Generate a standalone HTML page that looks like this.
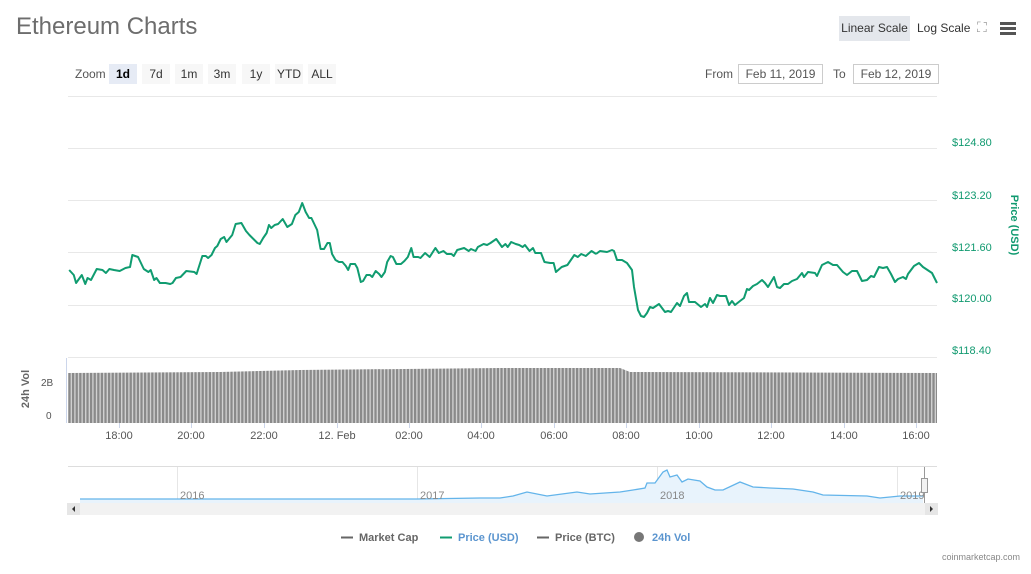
<!DOCTYPE html>
<html><head><meta charset="utf-8"><style>
body{margin:0;width:1031px;height:574px;background:#fff;font-family:"Liberation Sans",sans-serif;overflow:hidden;position:relative}
.a{position:absolute;white-space:nowrap}
.btn{position:absolute;top:64px;height:20px;width:28px;background:#f7f7f7;font-size:12px;color:#333;text-align:center;line-height:20px}
.inp{position:absolute;top:64px;height:18px;border:1px solid #ccc;font-size:12px;color:#555;line-height:18px;text-align:center}
.xl{position:absolute;top:430px;font-size:11px;color:#555;transform:translateX(-50%)}
.pl{position:absolute;left:952px;font-size:11px;color:#119a70}
</style></head><body>
<div class="a" style="left:16px;top:13px;font-size:24px;color:#6d6d6d">Ethereum Charts</div>
<div class="a" style="left:839px;top:16px;width:71px;height:25px;background:#e4e7ec;font-size:12px;color:#333;line-height:25px;text-align:center">Linear Scale</div>
<div class="a" style="left:917px;top:21px;font-size:12px;color:#333">Log Scale</div>
<div class="a" style="left:977px;top:19px;font-size:14px;color:#999">⛶</div>
<div class="a" style="left:1000px;top:22px;width:16px;height:3px;background:#555;box-shadow:0 5px 0 #555,0 10px 0 #555"></div>
<div class="a" style="left:75px;top:67px;font-size:12px;color:#555">Zoom</div>
<div class="btn" style="left:109px;background:#e6ebf5;font-weight:bold;color:#000">1d</div>
<div class="btn" style="left:142px">7d</div>
<div class="btn" style="left:175px">1m</div>
<div class="btn" style="left:208px">3m</div>
<div class="btn" style="left:242px">1y</div>
<div class="btn" style="left:275px">YTD</div>
<div class="btn" style="left:308px">ALL</div>
<div class="a" style="left:705px;top:67px;font-size:12px;color:#555">From</div>
<div class="inp" style="left:738px;width:83px">Feb 11, 2019</div>
<div class="a" style="left:833px;top:67px;font-size:12px;color:#555">To</div>
<div class="inp" style="left:853px;width:84px">Feb 12, 2019</div>
<svg class="a" style="left:0;top:0" width="1031" height="574">
<defs><pattern id="st" width="3.6" height="10" patternUnits="userSpaceOnUse"><rect width="2.4" height="10" fill="#8a8a8a"/><rect x="2.4" width="1.2" height="10" fill="#d0d0d0"/></pattern></defs>
<g stroke="#e8e8e8" stroke-width="1">
<line x1="68" y1="96.5" x2="937" y2="96.5"/><line x1="68" y1="148.5" x2="937" y2="148.5"/><line x1="68" y1="200.5" x2="937" y2="200.5"/><line x1="68" y1="252.5" x2="937" y2="252.5"/><line x1="68" y1="305.5" x2="937" y2="305.5"/><line x1="68" y1="357.5" x2="937" y2="357.5"/>
</g>
<line x1="66.5" y1="358" x2="66.5" y2="423" stroke="#ccd6eb"/>
<polygon points="68,373 220,372 300,370 500,368 620,368 630,372 937,373 937,423 68,423" fill="url(#st)"/>
<g stroke="#ccd6eb"><line x1="119.5" y1="423" x2="119.5" y2="428"/><line x1="191.5" y1="423" x2="191.5" y2="428"/><line x1="264.5" y1="423" x2="264.5" y2="428"/><line x1="337.5" y1="423" x2="337.5" y2="428"/><line x1="409.5" y1="423" x2="409.5" y2="428"/><line x1="481.5" y1="423" x2="481.5" y2="428"/><line x1="554.5" y1="423" x2="554.5" y2="428"/><line x1="626.5" y1="423" x2="626.5" y2="428"/><line x1="699.5" y1="423" x2="699.5" y2="428"/><line x1="771.5" y1="423" x2="771.5" y2="428"/><line x1="844.5" y1="423" x2="844.5" y2="428"/><line x1="916.5" y1="423" x2="916.5" y2="428"/></g>
<g fill="none" stroke="#109c70" stroke-width="2" stroke-linejoin="round">
<g transform="translate(60,0) scale(1.148,1) translate(-60,0)"><polyline vector-effect="non-scaling-stroke" points="68,270 72,275 74,283 79,275 82,284 84,278 87,280 92,269 97,270 100,273 103,269 107,270 112,271 117,268 121,267 123,255 128,257 133,269 137,272 139,270 142,280 144,278 147,283 152,283 156,284 158,283 161,278 165,277 170,271 177,272 179,274 184,256 187,256 189,258 192,255 195,248 197,246 200,239 203,237 205,242 210,235 213,224 218,223 222,231 225,235 232,243 234,244 237,238 240,233 242,225 244,228 247,225 250,224 254,219 258,227 262,224 265,215 268,212 271,203 274,212 277,218 279,218 284,230 287,249 290,249 293,243 295,243 297,254 300,260 303,262 306,262 309,266 311,270 313,264 317,264 319,268 322,282 324,281 327,275 330,275 332,277 335,271 338,274 340,277 343,272 345,262 348,256 350,257 353,264 357,264 360,261 363,257 366,248 368,257 372,257 374,258 378,253 382,257 387,248 390,253 394,251 397,254 401,254 403,256 406,250 409,249 412,248 416,251 418,249 422,251 424,247 429,244 432,245 435,243 440,239 445,247 448,244 450,247 453,242 457,244 460,245 463,247 465,245 469,251 472,248 474,253 479,253 482,262 487,263 490,263 492,272 497,267 502,265 508,255 511,257 514,254 518,256 523,251 527,254"/></g>
<polyline points="596,254 600,251 607,252 612,250 614,251 617,260 622,260 627,263 632,270 634,287 638,310 641,316 644,317 647,313 650,307 653,308 659,304 665,312 668,311 671,312 677,303 680,306 684,296 687,293 689,302 695,302 701,307 705,304 707,307 710,298 713,303 717,295 720,296 726,296 729,305 732,301 735,305 740,301 744,298 747,289 749,290 753,286 757,284 762,280 765,283 768,287 774,277 777,287 780,288 784,284 788,284 792,281 797,279 802,273 804,277 808,272 815,273 817,276 822,265 828,262 833,265 837,265 843,272 847,275 852,271 857,271 862,281 867,280 871,276 874,277 879,267 883,268 887,267 891,274 895,282 898,279 903,277 906,279 908,274 914,266 919,263 923,267 932,273 937,283"/>
</g>
<line x1="68" y1="466.5" x2="937" y2="466.5" stroke="#ddd"/>
<g stroke="#e6e6e6"><line x1="177.5" y1="467" x2="177.5" y2="503"/><line x1="417.5" y1="467" x2="417.5" y2="503"/><line x1="657.5" y1="467" x2="657.5" y2="503"/><line x1="897.5" y1="467" x2="897.5" y2="503"/></g>
<polygon points="80,499 417,499 480,498 500,498 513,496 527,492 547,496 577,492 590,494 620,492 633,490 645,488 647,483 655,483 663,472 667,470 670,477 677,475 682,482 688,479 700,481 707,487 715,490 723,490 740,482 753,487 770,488 793,489 813,492 823,495 867,496 880,498 900,496 923,496 923,503 80,503" fill="#e8f3fc"/>
<polyline fill="none" stroke="#63b4ea" stroke-width="1.3" points="80,499 417,499 480,498 500,498 513,496 527,492 547,496 577,492 590,494 620,492 633,490 645,488 647,483 655,483 663,472 667,470 670,477 677,475 682,482 688,479 700,481 707,487 715,490 723,490 740,482 753,487 770,488 793,489 813,492 823,495 867,496 880,498 900,496 923,496"/>
<g font-size="11" fill="#888" font-family="Liberation Sans"><text x="180" y="499">2016</text><text x="420" y="499">2017</text><text x="660" y="499">2018</text><text x="900" y="499">2019</text></g>
<line x1="924.5" y1="467" x2="924.5" y2="503" stroke="#999"/>
<rect x="921.5" y="478.5" width="6" height="14" fill="#f2f2f2" stroke="#999"/>
<rect x="67" y="503" width="871" height="12" fill="#f2f2f2"/>
<rect x="67" y="503" width="13" height="12" fill="#e6e6e6"/><rect x="925" y="503" width="13" height="12" fill="#e6e6e6"/>
<polygon points="75,506 75,512 72,509" fill="#333"/><polygon points="930,506 930,512 933,509" fill="#333"/>
<line x1="341" y1="537.5" x2="353" y2="537.5" stroke="#666" stroke-width="2"/>
<line x1="440" y1="537.5" x2="452" y2="537.5" stroke="#109c70" stroke-width="2"/>
<line x1="537" y1="537.5" x2="549" y2="537.5" stroke="#666" stroke-width="2"/>
<circle cx="639" cy="537" r="5" fill="#777"/>
<g font-size="11" font-weight="bold" font-family="Liberation Sans"><text x="359" y="541" fill="#666">Market Cap</text><text x="458" y="541" fill="#5b95cf">Price (USD)</text><text x="555" y="541" fill="#666">Price (BTC)</text><text x="652" y="541" fill="#5b95cf">24h Vol</text></g>
<text x="1011" y="225" transform="rotate(90 1011 225)" text-anchor="middle" font-size="11" font-weight="bold" fill="#119a70" font-family="Liberation Sans">Price (USD)</text>
<text x="29" y="389" transform="rotate(-90 29 389)" text-anchor="middle" font-size="11" font-weight="bold" fill="#666" font-family="Liberation Sans">24h Vol</text>
</svg>
<div class="pl" style="top:137px">$124.80</div>
<div class="pl" style="top:190px">$123.20</div>
<div class="pl" style="top:242px">$121.60</div>
<div class="pl" style="top:293px">$120.00</div>
<div class="pl" style="top:345px">$118.40</div>
<div class="a" style="left:41px;top:378px;font-size:10px;color:#555">2B</div>
<div class="a" style="left:46px;top:411px;font-size:10px;color:#555">0</div>
<div class="xl" style="left:119px">18:00</div><div class="xl" style="left:191px">20:00</div><div class="xl" style="left:264px">22:00</div><div class="xl" style="left:337px">12. Feb</div><div class="xl" style="left:409px">02:00</div><div class="xl" style="left:481px">04:00</div><div class="xl" style="left:554px">06:00</div><div class="xl" style="left:626px">08:00</div><div class="xl" style="left:699px">10:00</div><div class="xl" style="left:771px">12:00</div><div class="xl" style="left:844px">14:00</div><div class="xl" style="left:916px">16:00</div>
<div class="a" style="left:942px;top:552px;font-size:9px;color:#888">coinmarketcap.com</div>
</body></html>
